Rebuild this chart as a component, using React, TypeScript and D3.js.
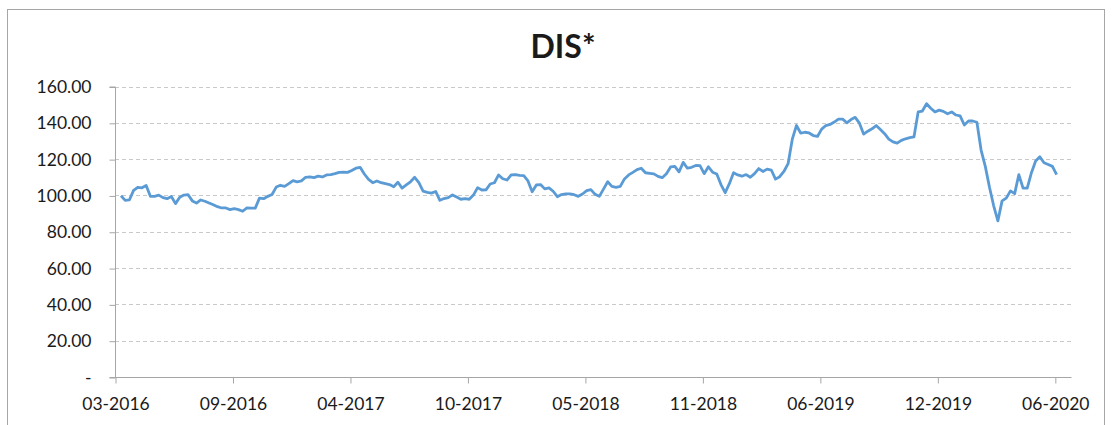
import React, { useEffect, useRef } from 'react';
import * as d3 from 'd3';

// weekly closing prices, first week starting 2016-03-25
const firstWeek = '2016-03-25';
const prices = [
  99.8, 97.3, 97.5, 102.8, 104.5, 104.2, 105.5, 99.5, 99.5, 100.2,
  98.8, 98.2, 99.4, 95.5, 99, 100.2, 100.4, 97, 95.8, 97.5,
  96.8, 95.8, 94.9, 93.8, 93.1, 93.1, 92.2, 92.7, 92.2, 91.3,
  93.1, 93, 93, 98.5, 98.2, 99.5, 100.5, 104.6, 105.6, 105,
  106.5, 108.2, 107.5, 108, 110, 110.2, 109.8, 110.6, 110.2, 111.3,
  111.5, 112, 112.7, 112.8, 112.7, 113.7, 115, 115.5, 111.8, 108.8,
  107, 108, 107, 106.5, 106, 104.8, 107.3, 104, 105.8, 107.5,
  110, 107, 102.4, 101.7, 101.3, 102.2, 97.3, 98.3, 98.8, 100.3,
  99.1, 97.9, 98.2, 97.9, 100.2, 104.3, 103, 103.1, 106.3, 107,
  111.3, 109.2, 108.5, 111.3, 111.5, 111, 110.9, 108, 102, 105.8,
  106, 103.6, 104.2, 102.3, 99.3, 100.5, 100.9, 100.9, 100.4, 99.5,
  100.8, 102.6, 103.2, 100.6, 99.5, 103.5, 107.5, 105, 104.5, 105,
  109.1, 111.3, 112.7, 114.2, 115, 112.5, 112.2, 111.9, 110.5, 109.8,
  112, 115.7, 116, 113, 118.2, 115, 115.5, 116.5, 116.4, 112,
  115.8, 112.8, 111.8, 106, 101.5, 106.5, 112.5, 111.3, 110.6, 111.5,
  110, 112, 114.8, 113.2, 114.5, 114, 109, 110.3, 113.2, 117.5,
  131, 138.5, 134.3, 134.8, 134.4, 133, 132.5, 136.5, 138.5, 139.1,
  140.4, 142, 142, 140, 141.8, 143, 139.8, 133.8, 135.4, 136.7,
  138.5, 136.3, 134, 131, 129.5, 128.8, 130.3, 131.2, 131.8, 132.2,
  146, 146.5, 150.5, 148, 146, 147, 146.3, 145, 146, 144.3,
  143.8, 138.8, 141, 141, 140.3, 125, 116, 104.5, 94.3, 86,
  97, 98.5, 102.5, 101, 111.5, 104, 104, 112.5, 119, 121.3,
  118, 117, 116, 111.5,
];

const xDomain = ['2016-03-15', '2020-07-27'];
const xTickDates = [
  '2016-03-15', '2016-09-27', '2017-04-11', '2017-10-24', '2018-05-08',
  '2018-11-20', '2019-06-04', '2019-12-17', '2020-06-30',
];
const yTicks = [0, 20, 40, 60, 80, 100, 120, 140, 160];
const chartTitle = 'DIS*';

const W = 1114;
const H = 425;
const font = 'Lato, "Liberation Sans", sans-serif';

export default function App() {
  const svgRef = useRef<SVGSVGElement | null>(null);

  useEffect(() => {
    const svg = d3.select(svgRef.current);
    svg.selectAll('*').remove();

    const parse = d3.timeParse('%Y-%m-%d');
    const start = parse(firstWeek) as Date;
    const data = prices.map((p, i) => ({ date: d3.timeDay.offset(start, 7 * i), value: p }));

    const x = d3.scaleTime()
      .domain(xDomain.map(d => parse(d) as Date))
      .range([115, 1071]);
    const y = d3.scaleLinear().domain([0, 160]).range([377, 86.5]);

    // chart frame
    svg.append('rect')
      .attr('x', 7.5).attr('y', 9.5)
      .attr('width', 1097).attr('height', 430)
      .attr('fill', '#fff')
      .attr('stroke', '#a6a6a6');

    svg.append('text')
      .attr('x', 563).attr('y', 58)
      .attr('text-anchor', 'middle')
      .attr('font-family', font)
      .attr('font-weight', 'bold')
      .attr('font-size', 32)
      .attr('fill', '#1a1a1a')
      .text(chartTitle);

    // gridlines
    svg.append('g')
      .selectAll('line')
      .data(yTicks.filter(t => t > 0))
      .enter().append('line')
      .attr('x1', 115).attr('x2', 1071)
      .attr('y1', d => Math.round(y(d)) + 0.5)
      .attr('y2', d => Math.round(y(d)) + 0.5)
      .attr('stroke', '#c9c9c9')
      .attr('stroke-dasharray', '4,3');

    // y axis
    const yAxis = d3.axisLeft(y)
      .tickValues(yTicks)
      .tickSize(6)
      .tickPadding(18)
      .tickFormat(d => (+d === 0 ? '-' : d3.format('.2f')(+d)));
    const gy = svg.append('g').attr('transform', 'translate(115.5,0.5)').call(yAxis);
    gy.select('.domain').attr('stroke', '#a6a6a6').attr('d', 'M-6,' + y(160) + 'H0V' + y(0));
    gy.selectAll('.tick line').attr('stroke', '#a6a6a6');
    gy.selectAll('text')
      .attr('font-family', font)
      .attr('font-size', 17.5)
      .attr('fill', '#1a1a1a');

    // x axis
    const xAxis = d3.axisBottom(x)
      .tickValues(xTickDates.map(d => parse(d) as Date))
      .tickSize(6)
      .tickPadding(14)
      .tickFormat(d => d3.timeFormat('%m-%Y')(d as Date));
    const gx = svg.append('g').attr('transform', 'translate(0.5,' + (y(0) + 0.5) + ')').call(xAxis);
    gx.select('.domain').attr('stroke', '#a6a6a6').attr('d', 'M109,0H1071');
    gx.selectAll('.tick line').attr('stroke', '#a6a6a6');
    gx.selectAll('text')
      .attr('font-family', font)
      .attr('font-size', 17.5)
      .attr('fill', '#1a1a1a');

    // price line
    const line = d3.line<{ date: Date; value: number }>()
      .x(d => x(d.date))
      .y(d => y(d.value));
    svg.append('path')
      .datum(data)
      .attr('d', line)
      .attr('fill', 'none')
      .attr('stroke', '#5b9bd5')
      .attr('stroke-width', 2.8)
      .attr('stroke-linejoin', 'round');
  }, []);

  return (
    <div style={{ position: 'absolute', left: 0, top: 0 }}>
      <svg width={W} height={H} ref={svgRef} style={{ display: 'block' }} />
    </div>
  );
}
